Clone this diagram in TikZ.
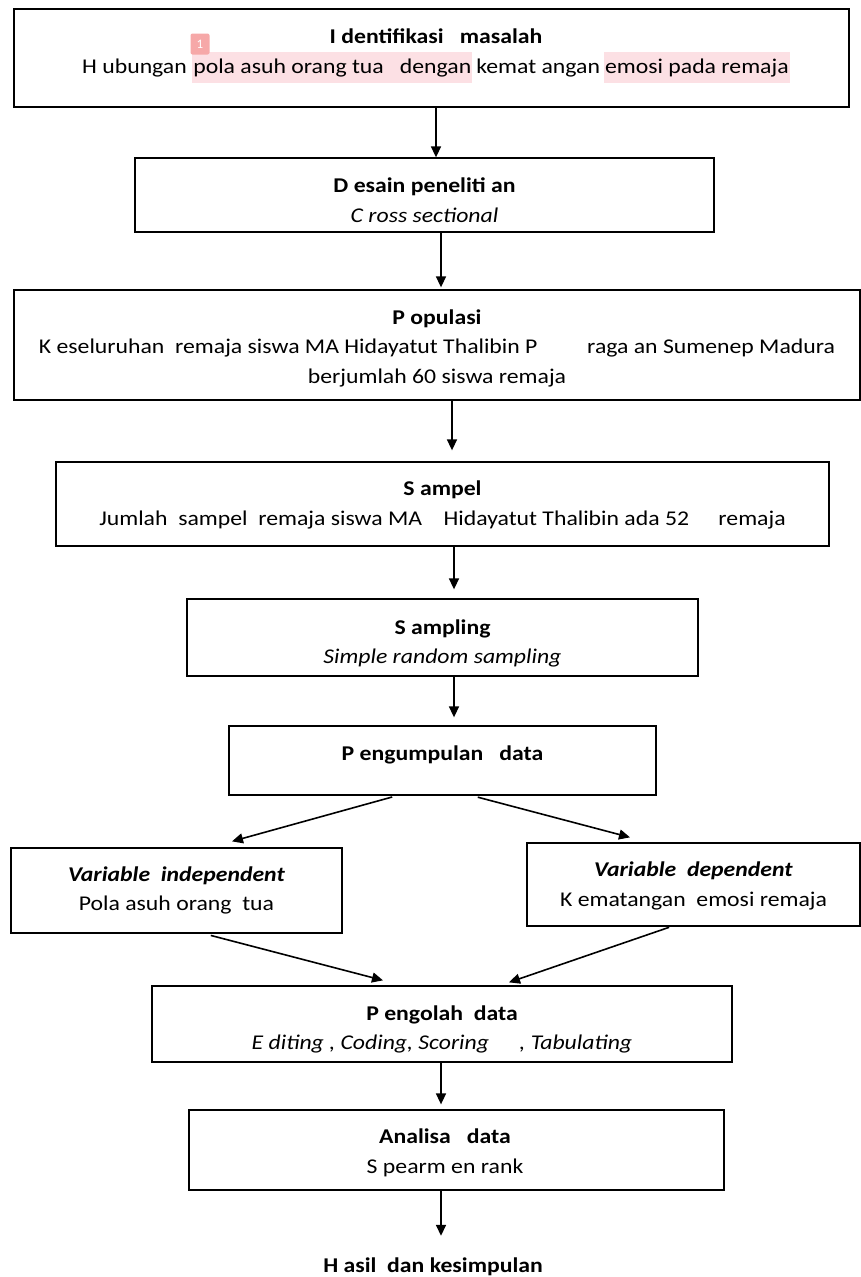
\documentclass[tikz,border=0pt]{standalone}
\usepackage{fontspec}
\setmainfont{Carlito}
\usetikzlibrary{arrows.meta}
\definecolor{hilite}{RGB}{252,224,228}
\definecolor{marker}{RGB}{246,168,168}
\newcommand{\hl}[1]{{\setlength{\fboxsep}{1pt}\colorbox{hilite}{\strut #1}}}
\tikzset{
  box/.style={draw, line width=1.3pt, inner sep=0pt},
  txt/.style={align=center, font=\fontsize{21}{29.5}\selectfont, inner sep=0pt, xscale=1.13, transform shape},
  arr/.style={line width=1.6pt, -{Triangle[length=11pt,width=10pt]}}
}

\begin{document}
\begin{tikzpicture}[x=1pt,y=-1pt]
	\useasboundingbox (0,0) rectangle (861,1277);
	%%%%% boxes %%%%%
	\node[box, minimum width=835pt, minimum height=98pt] (idm) at (431.5,58) {};
	\node[box, minimum width=579pt, minimum height=74pt] (des) at (424.5,195) {};
	\node[box, minimum width=846pt, minimum height=110pt] (pop) at (437,345) {};
	\node[box, minimum width=773pt, minimum height=84pt] (sam) at (442.5,504) {};
	\node[box, minimum width=511pt, minimum height=77pt] (smp) at (442.5,637.5) {};
	\node[box, minimum width=427pt, minimum height=69pt] (kum) at (442.5,760.5) {};
	\node[box, minimum width=331pt, minimum height=85pt] (ind) at (176.5,890.5) {};
	\node[box, minimum width=333pt, minimum height=83pt] (dep) at (693.5,884.5) {};
	\node[box, minimum width=580pt, minimum height=76pt] (olh) at (442,1024) {};
	\node[box, minimum width=535pt, minimum height=80pt] (ana) at (456.5,1150) {};
	
	%%%%% texts %%%%%
	\node[txt] (idmt) at (436,56) {\textbf{I dentifikasi\ \ \ masalah}\\
		H ubungan\ \hl{pola asuh orang tua\ \ \ dengan}\,kemat\ angan\,\hl{emosi pada remaja}};
	\node[fill=marker, rounded corners=2pt, minimum width=19pt, minimum height=21pt, inner sep=0pt,
		text=white, font=\fontsize{13}{13}\selectfont] (mk) at (200,44) {1};
	\node[txt] (dest) at (424.5,200) {\textbf{D esain\ peneliti an}\\ \textit{C ross\ sectional}};
	\node[txt] (popt) at (437,348) {\textbf{P opulasi}\\
		K eseluruhan\ \ remaja siswa MA Hidayatut Thalibin P\hspace{44pt}raga an Sumenep Madura\\
		berjumlah 60 siswa remaja};
	\node[txt] (samt) at (442.5,505) {\textbf{S ampel}\\
		Jumlah\ \ sampel\ \ remaja siswa MA\hspace{19pt}Hidayatut Thalibin ada 52\hspace{26pt}remaja};
	\node[txt] (smpt) at (442.5,643.5) {\textbf{S ampling}\\ \textit{Simple random sampling}};
	\node[txt] (kumt) at (442.5,755) {\textbf{P engumpulan\ \ \ data}};
	\node[txt] (indt) at (176.5,890.5) {\textbf{\textit{Variable\ \ independent}}\\ Pola\ asuh orang\ \ tua};
	\node[txt] (dept) at (693.5,886) {\textbf{\textit{Variable\ \ dependent}}\\ K ematangan\ \ emosi remaja};
	\node[txt] (olht) at (442,1029.5) {\textbf{P engolah\ \ data}\\
		\textit{E diting\ ,\ Coding, Scoring\hspace{27pt}, Tabulating}};
	\node[txt] (anat) at (445,1153) {\textbf{Analisa\ \ \ data}\\ S pearm en rank};
	\node[txt] (has) at (433,1267) {\textbf{H asil\ \ dan kesimpulan}};
	
	%%%%% arrows %%%%%
	\draw[arr] ([xshift=4.5pt]idm.south) -- ([xshift=11.5pt]des.north);
	\draw[arr] ([xshift=16.5pt]des.south) -- ([xshift=4pt,yshift=2pt]pop.north);
	\draw[arr] ([xshift=15pt]pop.south) -- ([xshift=9.5pt,yshift=11pt]sam.north);
	\draw[arr] ([xshift=11.5pt]sam.south) -- ([xshift=11.5pt,yshift=9pt]smp.north);
	\draw[arr] ([xshift=11.5pt]smp.south) -- ([xshift=11.5pt,yshift=8pt]kum.north);
	\draw[arr, shorten <=5pt] ([xshift=-45.5pt]kum.south) -- ([xshift=55.5pt,yshift=6pt]ind.north);
	\draw[arr, shorten <=6pt] ([xshift=29.5pt]kum.south) -- ([xshift=-63.5pt,yshift=5pt]dep.north);
	\draw[arr, shorten <=7pt] ([xshift=27.5pt]ind.south) -- ([xshift=-59pt,yshift=5pt]olh.north);
	\draw[arr, shorten <=2pt] ([xshift=-22.5pt]dep.south) -- ([xshift=67pt,yshift=3pt]olh.north);
	\draw[arr] ([xshift=-1pt]olh.south) -- ([xshift=-15.5pt,yshift=5pt]ana.north);
	\draw[arr] ([xshift=-15.5pt]ana.south) -- ([xshift=8pt,yshift=22pt]has.north);
\end{tikzpicture}
\end{document}
